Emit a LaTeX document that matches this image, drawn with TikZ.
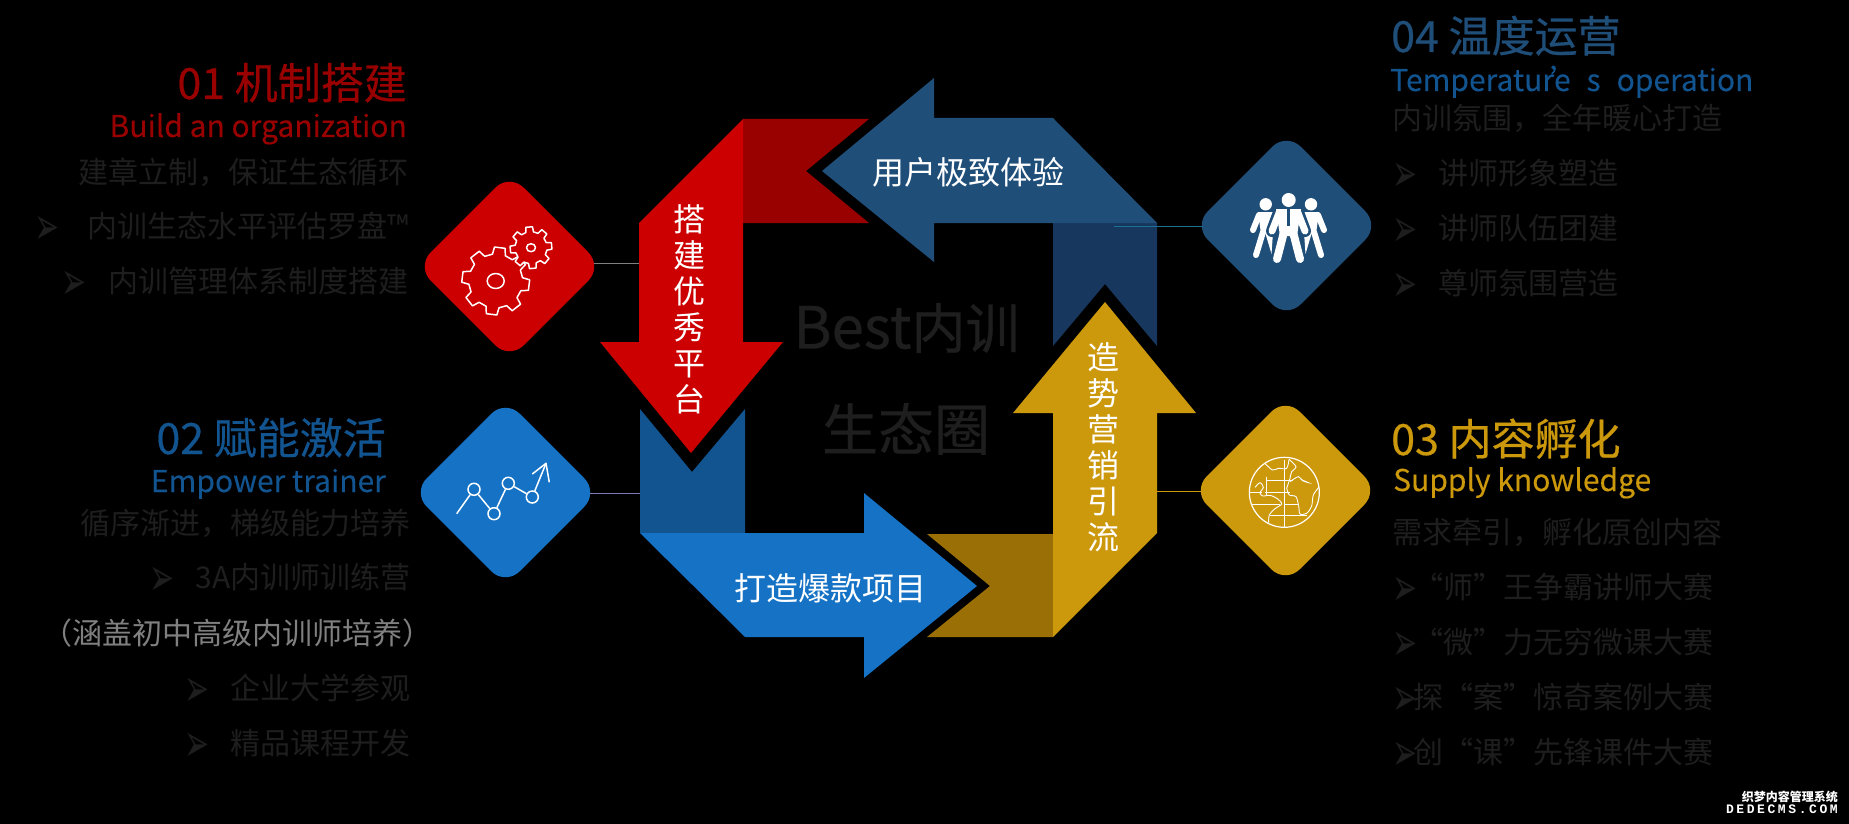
\documentclass[tikz,border=0pt]{standalone}
\usepackage{graphicx}
\usepackage{fontspec}
\setmainfont{Noto Sans CJK SC}
\newfontfamily\bulletfont{DejaVu Sans}
\newfontfamily\stampfont[LetterSpace=20]{Liberation Mono}
\newfontfamily\heavyfont[FakeBold=0.5]{Noto Sans CJK SC}
\newfontfamily\midfont[FakeBold=0.2]{Noto Sans CJK SC}
\usetikzlibrary{shapes.geometric}

\definecolor{redmain}{HTML}{CC0000}
\definecolor{reddark}{HTML}{990000}
\definecolor{navymain}{HTML}{1F4E79}
\definecolor{navydark}{HTML}{17375E}
\definecolor{bluemain}{HTML}{1572C5}
\definecolor{bluedark}{HTML}{12548F}
\definecolor{goldmain}{HTML}{CC980C}
\definecolor{golddark}{HTML}{9A7006}
\definecolor{faint}{HTML}{1E1E1E}

\newcommand{\bul}[1]{\makebox[19pt][l]{\raisebox{-7pt}{\scalebox{1.3}[2.3]{\bulletfont\fontsize{23}{23}\selectfont ➢}}}\hspace{#1}}
\newcommand{\gearicon}[6]{%
    \begin{scope}[shift={(#1,#2)}]
        \draw[iconline, fill=redmain] (#6-14:#4)
            \foreach \a in {0,...,7} {
                -- (#6+\a*#5-9:#3) -- (#6+\a*#5+9:#3) -- (#6+\a*#5+14:#4) -- (#6+\a*#5+#5-14:#4)
            } -- cycle;
    \end{scope}
}

\begin{document}
\begin{tikzpicture}[
        x=1pt, y=-1pt,
        badge/.style={diamond, inner sep=0pt, outer sep=0pt, minimum width=186pt, minimum height=186pt, rounded corners=20pt},
        link/.style={line width=0.8pt, shorten <=-9pt},
        iconline/.style={draw=white, line width=1.5pt, line join=round},
        chartdot/.style={circle, draw=white, line width=1.5pt, inner sep=0pt, minimum size=12pt},
        head_en/.style={font=\midfont\fontsize{30}{32}\selectfont, inner sep=0pt},
        head_cn/.style={font=\heavyfont\fontsize{43}{46}\selectfont, inner sep=0pt},
        body/.style={font=\fontsize{30}{32}\selectfont, text=faint, inner sep=0pt},
        cue/.style={font=\fontsize{32}{36}\selectfont, text=white, inner sep=0pt, align=center},
        core/.style={font=\heavyfont\fontsize{54}{56}\selectfont, text=faint, inner sep=0pt}
    ]

    % --- Backdrop ---
    \useasboundingbox (0,0) rectangle (1849,824);
    \fill[black] (0,0) rectangle (1849,824);

    % --- Folded Tails ---
    \fill[reddark] (743,119) -- (869,119) -- (806,171) -- (869,223) -- (743,223) -- cycle;
    \fill[navydark] (1053,223) -- (1157,223) -- (1157,346) -- (1105,284) -- (1053,346) -- cycle;
    \fill[golddark] (927,534) -- (1053,534) -- (1053,637) -- (927,637) -- (990,586) -- cycle;
    \fill[bluedark] (640,409) -- (692,472) -- (745,409) -- (745,533) -- (640,533) -- cycle;

    % --- Arrows ---
    \fill[redmain] (743,119) -- (639,223) -- (639,342) -- (600,342) -- (691,453) -- (783,342) -- (743,342) -- cycle;
    \fill[navymain] (822,171) -- (934,78) -- (934,118) -- (1053,118) -- (1157,223) -- (934,223) -- (934,262) -- cycle;
    \fill[bluemain] (640,533) -- (864,533) -- (864,493) -- (977,586) -- (864,678) -- (864,637) -- (745,637) -- cycle;
    \fill[goldmain] (1105,302) -- (1196,413) -- (1157,413) -- (1157,533) -- (1053,637) -- (1053,413) -- (1013,413) -- cycle;

    % --- Arrow Labels ---
    \node[cue] (userlabel) at (968,172) {用户极致体验};
    \node[cue] (projectlabel) at (830,588) {打造爆款项目};
    \node[cue] (platformlabel) at (689,309) {搭\\建\\优\\秀\\平\\台};
    \node[cue] (marketlabel) at (1103,447) {造\\势\\营\\销\\引\\流};

    % --- Centre Title ---
    \node[core] (coretop) at (906.5,328) {{\fontsize{58}{58}\selectfont Best}内训};
    \node[core, font=\heavyfont\fontsize{56}{58}\selectfont] (corebottom) at (906,429) {生态圈};

    % --- Badges ---
    \node[badge, fill=redmain] (redbadge) at (509.5,266.5) {};
    \node[badge, fill=bluemain] (bluebadge) at (505.5,492.5) {};
    \node[badge, fill=navymain] (navybadge) at (1286.5,225.5) {};
    \node[badge, fill=goldmain] (goldbadge) at (1285.5,490.5) {};

    % --- Links ---
    \coordinate (redend) at (639,263);
    \coordinate (blueend) at (640,493);
    \coordinate (navyend) at (1114,226);
    \coordinate (goldend) at (1157,491);
    \draw[link, draw=gray] (redbadge.east |- redend) -- (redend);
    \draw[link, draw=blue!30!gray!80!white] (bluebadge.east |- blueend) -- (blueend);
    \draw[link, draw=navymain!80!cyan] (navybadge.west |- navyend) -- (navyend);
    \draw[link, draw=goldmain] (goldbadge.west |- goldend) -- (goldend);

    % --- Gear Icon ---
    \gearicon{495.7}{281}{34}{27}{45}{7}
    \gearicon{531}{247.7}{21}{16}{45}{-5}
    \draw[iconline] (495.7,281) ellipse (8.5 and 7.5);
    \draw[iconline] (531,247.7) ellipse (4.5 and 4);

    % --- Chart Icon ---
    \coordinate (chartstart) at (456.7,513.7);
    \coordinate (charttip) at (546,463.3);
    \coordinate (wingleft) at (532.3,474);
    \coordinate (wingright) at (549.3,482.3);
    \node[chartdot] (pt1) at (474,489.3) {};
    \node[chartdot] (pt2) at (494,513.7) {};
    \node[chartdot] (pt3) at (508.3,483.3) {};
    \node[chartdot] (pt4) at (532.3,497) {};
    \draw[iconline] (chartstart) -- (pt1);
    \draw[iconline] (pt1) -- (pt2);
    \draw[iconline] (pt2) -- (pt3);
    \draw[iconline] (pt3) -- (pt4);
    \draw[iconline] (pt4) -- (charttip);
    \draw[iconline] (wingleft) -- (charttip) -- (wingright);

    % --- People Icon ---
    \begin{scope}[line cap=round, draw=white]
        \fill[white] (1265.7,204.3) circle (6.2);
        \fill[white] (1311,204.3) circle (6.2);
        \fill[white] (1288.7,200) circle (7);
        \fill[white] (1258,212) -- (1273,212) -- (1271,234) -- (1261,234) -- cycle;
        \fill[white] (1304,212) -- (1319,212) -- (1316,234) -- (1306,234) -- cycle;
        \fill[white] (1265,232) -- (1273,232) -- (1271.5,254) -- cycle;
        \fill[white] (1304,232) -- (1312,232) -- (1305.5,254) -- cycle;
        \draw[line width=6pt] (1259,215) -- (1253,230);
        \draw[line width=6pt] (1263,232) -- (1256,255);
        \draw[line width=6pt] (1318,215) -- (1324,230);
        \draw[line width=6pt] (1314,232) -- (1321,255);
        \draw[navymain, line width=12pt] (1279,212) -- (1272,231);
        \draw[navymain, line width=12pt] (1298,212) -- (1305,231);
        \draw[line width=7pt] (1279,213) -- (1272,231);
        \draw[line width=7pt] (1298,213) -- (1305,231);
        \fill[white] (1276,209) -- (1301,209) -- (1297,236) -- (1280,236) -- cycle;
        \draw[line width=8pt] (1284,232) -- (1277,259);
        \draw[line width=8pt] (1293,232) -- (1300,259);
        \draw[navymain, line width=2.5pt, line cap=butt] (1288.7,209) -- (1288.7,226);
    \end{scope}

    % --- Globe Icon ---
    \begin{scope}[shift={(1190,400)}, scale=0.3333, line width=0.9pt]
        \draw[white, line width=1.2pt] (283,277) circle (105);
        \clip (283,277) circle (105);
        \draw[white] (178,278) -- (215,278);
        \draw[white] (230,240) -- (310,240);
        \draw[white] (225,278) -- (300,278);
        \draw[white] (180,312) -- (270,312);
        \draw[white] (285,312) -- (325,312);
        \draw[white] (240,345) -- (350,345);
        \draw[white] (230,230) -- (230,285);
        \draw[white] (283,180) -- (283,385);
        \draw[white] plot[smooth] coordinates {(222,187) (247,210) (265,205) (290,205) (297,178)};
        \draw[white] plot[smooth] coordinates {(297,178) (318,200) (305,215) (300,235) (290,265)};
        \draw[white] plot[smooth] coordinates {(195,262) (210,248) (220,262) (210,278) (218,288) (240,286) (262,296) (275,312) (255,326) (238,345) (236,368)};
        \draw[white] plot[smooth] coordinates {(290,265) (298,285) (318,290) (326,318) (330,342) (350,340) (365,318) (370,285) (388,260)};
        \draw[white] plot[smooth] coordinates {(300,245) (325,230) (338,242) (355,248) (332,238)};
    \end{scope}

    % --- 01 Text ---
    \node[head_cn, text=reddark, anchor=base east] (headone) at (407,99) {01 机制搭建};
    \node[head_en, text=reddark, anchor=base east] (subone) at (407,137) {Build an organization};
    \node[body, anchor=base east] (oneA) at (409,183) {建章立制，保证生态循环};
    \node[body, anchor=base east] (oneB) at (409,237) {\bul{34pt}内训生态水平评估罗盘™};
    \node[body, anchor=base east] (oneC) at (409,292) {\bul{28pt}内训管理体系制度搭建};

    % --- 02 Text ---
    \node[head_cn, text=bluedark, anchor=base east] (headtwo) at (386,454) {02 赋能激活};
    \node[head_en, text=bluedark, anchor=base east] (subtwo) at (386,492) {Empower trainer};
    \node[body, anchor=base east] (twoA) at (411,534) {循序渐进，梯级能力培养};
    \node[body, anchor=base east] (twoB) at (411,588) {\bul{27pt}3A内训师训练营};
    \node[body, text=gray, anchor=base east] (twoC) at (433,644) {（涵盖初中高级内训师培养）};
    \node[body, anchor=base east] (twoD) at (411,699) {\bul{27pt}企业大学参观};
    \node[body, anchor=base east] (twoE) at (411,754) {\bul{27pt}精品课程开发};

    % --- 03 Text ---
    \node[head_cn, text=goldmain, anchor=base west] (headthree) at (1391,455) {03 内容孵化};
    \node[head_en, text=goldmain, anchor=base west] (subthree) at (1393,491) {Supply knowledge};
    \node[body, anchor=base west] (threeA) at (1392,543) {需求牵引，孵化原创内容};
    \node[body, anchor=base west] (threeB) at (1392,598) {\bul{2pt}“师”王争霸讲师大赛};
    \node[body, anchor=base west] (threeC) at (1392,653) {\bul{2pt}“微”力无穷微课大赛};
    \node[body, anchor=base west] (threeD) at (1392,708) {\bul{2pt}探“案”惊奇案例大赛};
    \node[body, anchor=base west] (threeE) at (1392,763) {\bul{2pt}创“课”先锋课件大赛};

    % --- 04 Text ---
    \node[head_cn, text=navymain, anchor=base west] (headfour) at (1391,52) {04 温度运营};
    \node[head_en, text=bluedark, anchor=base west] (subfour) at (1390,91) {Temperatur\rlap{\kern-4pt’}e\hspace{16pt}s\hspace{16pt}operation};
    \node[body, anchor=base west] (fourA) at (1392,129) {内训氛围，全年暖心打造};
    \node[body, anchor=base west] (fourB) at (1392,184) {\bul{27pt}讲师形象塑造};
    \node[body, anchor=base west] (fourC) at (1392,239) {\bul{27pt}讲师队伍团建};
    \node[body, anchor=base west] (fourD) at (1392,294) {\bul{27pt}尊师氛围营造};

    % --- Corner Stamp ---
    \node[text=white, inner sep=0pt, font=\fontsize{12}{12}\selectfont\bfseries, anchor=east] (stampcn) at (1838,797) {织梦内容管理系统};
    \node[text=white, inner sep=0pt, font=\stampfont\fontsize{13}{13}\selectfont\bfseries, anchor=east] (stampen) at (1838,809) {DEDECMS.COM};

\end{tikzpicture}
\end{document}
